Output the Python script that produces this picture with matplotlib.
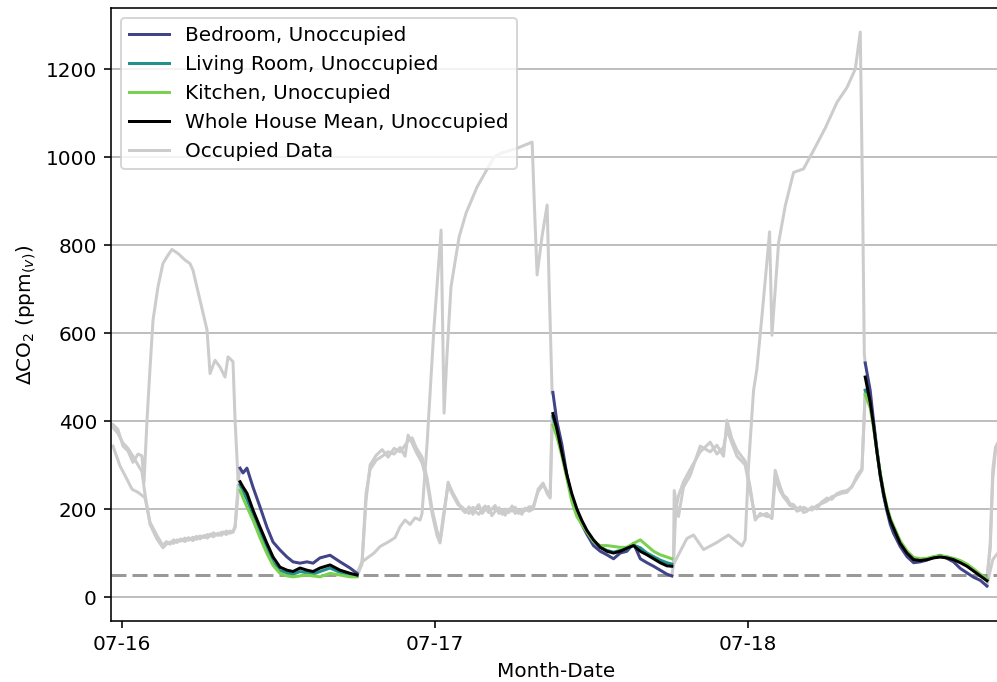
import numpy as np
import pandas as pd
import matplotlib
matplotlib.use('Agg')
import matplotlib.pyplot as plt
import matplotlib.dates as mdates

# 基準日 (07-16 00:00) からの経過時間 [h] と ΔCO2 [ppm]
START = pd.Timestamp('2021-07-16 00:00')

# ---- 在室時のデータ (グレー) ----
bed_occ_1_h = [-0.69, -0.31, 0.08, 0.46, 0.84, 1.23, 1.53, 1.69, 1.92, 2.15, 2.38, 2.76, 3.14, 3.53,
               3.83, 4.29, 4.83, 5.21, 5.44, 5.98, 6.52, 6.75, 7.13, 7.51, 7.90, 8.13, 8.51, 8.67, 8.90, 9.05]
bed_occ_1 = [392, 381, 343, 332, 306, 325, 321, 260, 402, 520, 629, 705, 758, 777,
             790, 781, 766, 758, 743, 675, 607, 508, 538, 523, 500, 546, 535, 402, 265, 290]
bed_occ_2_h = [18.02, 18.40, 18.86, 19.32, 19.79, 20.40, 20.93, 21.32, 21.70, 22.08, 22.47, 22.85, 23.00,
               23.39, 23.69, 23.92, 24.23, 24.46, 24.69, 24.92, 25.22, 25.84, 26.38, 27.22, 27.60, 28.52,
               29.06, 30.29, 31.44, 31.60, 31.82, 32.20, 32.59, 32.75, 32.97]
bed_occ_2 = [54, 80, 90, 100, 115, 125, 135, 160, 175, 165, 180, 175, 190,
             350, 500, 614, 740, 834, 418, 554, 705, 818, 873, 932, 952, 1000,
             1009, 1020, 1034, 900, 732, 820, 891, 700, 464]
bed_occ_3_h = [42.15, 42.27, 43.30, 43.81, 44.58, 45.60, 46.49, 47.52, 47.77, 48.03, 48.41, 48.67, 49.05,
               49.43, 49.64, 49.82, 50.33, 50.84, 51.48, 52.24, 53.01, 53.91, 54.80, 55.57, 56.21, 56.59,
               56.77, 56.90, 56.97]
bed_occ_3 = [48, 74, 133, 141, 108, 124, 141, 116, 130, 300, 469, 519, 637,
             760, 830, 595, 805, 889, 965, 973, 1015, 1066, 1124, 1158, 1200, 1284,
             900, 553, 532]
bed_occ_4_h = [66.30, 66.55, 66.75, 67.00, 67.30]
bed_occ_4 = [25, 60, 85, 95, 105]

liv_occ_1_h = [-0.69, -0.15, 0.38, 0.77, 1.23, 1.76, 2.15, 2.68, 3.14, 3.40, 3.68, 3.95, 4.22, 4.50,
               4.83, 5.10, 5.44, 5.70, 5.98, 6.30, 6.55, 6.75, 7.00, 7.36, 7.60, 7.74, 8.00, 8.28,
               8.51, 8.67, 8.90, 9.05]
liv_occ_1 = [343, 298, 268, 245, 238, 226, 170, 140, 117, 126, 120, 130, 124, 132,
             126, 135, 128, 138, 132, 140, 134, 143, 137, 145, 140, 148, 142, 150,
             147, 158, 255, 262]
liv_occ_2_h = [18.02, 18.40, 18.71, 19.02, 19.48, 19.94, 20.40, 20.86, 21.32, 21.70, 21.93, 22.24, 22.54,
               23.00, 23.39, 23.77, 24.15, 24.38, 24.61, 25.00, 25.30, 25.76, 26.05, 26.30, 26.60, 26.90,
               27.07, 27.35, 27.60, 27.84, 28.10, 28.35, 28.60, 28.90, 29.15, 29.37, 29.65, 29.90, 30.14,
               30.40, 30.65, 30.90, 31.20, 31.52, 31.90, 32.28, 32.59, 32.82, 32.97]
liv_occ_2 = [50, 80, 236, 290, 311, 320, 330, 325, 340, 320, 368, 350, 330,
             305, 260, 190, 140, 123, 170, 261, 240, 215, 200, 192, 205, 188,
             200, 210, 190, 198, 206, 185, 195, 203, 188, 200, 192, 207, 190,
             198, 188, 202, 195, 200, 245, 259, 235, 225, 410]
liv_occ_3_h = [42.15, 42.27, 42.33, 42.66, 43.04, 43.55, 44.32, 45.09, 45.60, 46.11, 46.37, 46.75, 47.14,
               47.77, 48.15, 48.54, 48.92, 49.43, 49.82, 50.07, 50.46, 50.70, 50.97, 51.20, 51.48, 51.75,
               51.99, 52.25, 52.50, 52.90, 53.27, 53.60, 54.04, 54.40, 54.80, 55.20, 55.57, 55.95, 56.34,
               56.72, 56.97]
liv_occ_3 = [70, 74, 242, 183, 250, 276, 343, 330, 345, 320, 402, 360, 334,
             309, 250, 175, 190, 183, 183, 288, 250, 232, 225, 212, 210, 200,
             205, 192, 195, 205, 200, 215, 225, 222, 235, 240, 242, 250, 276,
             292, 470]
liv_occ_4_h = [66.30, 66.55, 66.75, 66.95, 67.30]
liv_occ_4 = [40, 120, 290, 340, 360]

kit_occ_1_h = [-0.69, -0.31, 0.08, 0.46, 0.84, 1.23, 1.53, 1.76, 2.15, 2.68, 3.14, 3.40, 3.68, 3.95,
               4.22, 4.50, 4.83, 5.10, 5.44, 5.70, 5.98, 6.30, 6.55, 6.75, 7.00, 7.36, 7.60, 7.74,
               8.00, 8.28, 8.51, 8.67, 8.90, 9.05]
kit_occ_1 = [385, 372, 350, 338, 320, 300, 285, 235, 165, 132, 112, 120, 125, 122,
             130, 127, 134, 129, 136, 131, 139, 135, 142, 138, 146, 140, 147, 143,
             150, 145, 150, 160, 235, 243]
kit_occ_2_h = liv_occ_2_h
kit_occ_2 = [48, 75, 220, 300, 322, 335, 318, 338, 330, 345, 355, 362, 340,
             318, 270, 200, 150, 130, 180, 255, 235, 210, 205, 198, 190, 204,
             195, 188, 200, 207, 192, 200, 208, 190, 198, 186, 200, 195, 204,
             190, 200, 196, 205, 205, 240, 255, 240, 230, 391]
kit_occ_3_h = [42.15, 42.27, 42.45, 42.66, 43.04, 43.55, 44.32, 45.09, 45.60, 46.11, 46.37, 46.75, 47.14,
               47.77, 48.15, 48.54, 48.92, 49.43, 49.82, 50.07, 50.46, 50.70, 50.97, 51.20, 51.48, 51.75,
               51.99, 52.25, 52.50, 52.90, 53.27, 53.60, 54.04, 54.40, 54.80, 55.20, 55.57, 55.95, 56.34,
               56.72, 56.97]
kit_occ_3 = [70, 72, 200, 230, 262, 290, 330, 352, 325, 340, 380, 350, 320,
             300, 240, 180, 185, 190, 178, 270, 240, 228, 218, 208, 205, 195,
             198, 204, 200, 198, 208, 212, 218, 228, 232, 236, 238, 252, 270,
             288, 460]
kit_occ_4_h = [66.30, 66.55, 66.75, 66.95, 67.30]
kit_occ_4 = [42, 110, 270, 330, 355]

# ---- 不在時の減衰データ ----
unocc_1_h = [9.05, 9.28, 9.58, 10.04, 10.58, 11.11, 11.58, 12.11, 12.65, 13.11, 13.65, 14.18,
             14.65, 15.18, 15.95, 16.72, 17.48, 18.02]
bed_un_1 = [293, 282, 293, 250, 205, 159, 125, 107, 91, 80, 77, 80, 77, 89, 95, 80, 66, 54]
liv_un_1 = [255, 240, 222, 185, 145, 108, 78, 60, 55, 52, 58, 55, 52, 58, 66, 56, 50, 48]
kit_un_1 = [243, 225, 205, 175, 135, 99, 72, 54, 48, 46, 48, 50, 48, 46, 54, 50, 46, 46]
mean_un_1 = [262, 250, 236, 198, 159, 122, 91, 68, 61, 58, 66, 61, 58, 66, 73, 61, 54, 50]

unocc_2_h = [33.03, 33.33, 33.71, 34.10, 34.48, 34.87, 35.25, 35.63, 36.14, 36.66, 37.17, 37.68,
             38.19, 38.70, 39.21, 39.73, 40.24, 40.75, 41.26, 41.77, 42.15]
bed_un_2 = [465, 400, 348, 278, 226, 191, 165, 143, 117, 104, 96, 87, 100, 104, 122, 87, 78, 70, 61, 52, 48]
liv_un_2 = [410, 375, 328, 275, 228, 192, 170, 150, 127, 113, 106, 102, 106, 109, 118, 112, 100, 92, 84, 78, 75]
kit_un_2 = [391, 365, 322, 270, 217, 183, 165, 148, 126, 117, 117, 115, 113, 113, 122, 130, 117, 104, 96, 91, 87]
mean_un_2 = [417, 383, 330, 278, 235, 200, 174, 152, 130, 113, 104, 100, 104, 111, 117, 104, 96, 87, 78, 71, 70]

unocc_3_h = [56.97, 57.35, 57.61, 57.87, 58.12, 58.38, 58.64, 58.89, 59.14, 59.65, 60.17, 60.68,
             61.19, 61.70, 62.21, 62.72, 63.23, 63.74, 64.26, 64.77, 65.28, 65.79, 66.30]
bed_un_3 = [532, 470, 400, 335, 275, 230, 195, 165, 145, 115, 92, 78, 80, 84, 90, 95, 88, 80, 65, 55, 45, 38, 25]
liv_un_3 = [470, 440, 390, 330, 280, 236, 200, 174, 157, 124, 102, 88, 85, 86, 90, 92, 90, 86, 80, 72, 61, 50, 40]
kit_un_3 = [460, 430, 385, 330, 282, 240, 205, 180, 162, 128, 105, 90, 87, 88, 92, 94, 92, 88, 83, 75, 64, 52, 42]
mean_un_3 = [500, 443, 391, 330, 278, 235, 200, 174, 157, 122, 100, 85, 83, 85, 89, 91, 89, 85, 78, 70, 59, 48, 37]

BASELINE = 50


def join(hours, values):
    # 区間ごとのデータをNaNで区切って1本の系列にする
    t, v = [], []
    for h, y in zip(hours, values):
        t += list(h) + [h[-1] + 0.01]
        v += list(y) + [np.nan]
    return START + pd.to_timedelta(t, unit='h'), np.array(v, dtype=float)


cmap = plt.get_cmap('viridis')
c_bed, c_liv, c_kit = cmap(0.2), cmap(0.5), cmap(0.8)
c_occ = '0.8'

fig = plt.figure(figsize=(997 / 144, 682 / 144), dpi=144)
ax = fig.add_axes([0.1113, 0.0894, 0.893, 0.8988])

# 在室時
for h, y in [((bed_occ_1_h, bed_occ_2_h, bed_occ_3_h, bed_occ_4_h), (bed_occ_1, bed_occ_2, bed_occ_3, bed_occ_4)),
             ((liv_occ_1_h, liv_occ_2_h, liv_occ_3_h, liv_occ_4_h), (liv_occ_1, liv_occ_2, liv_occ_3, liv_occ_4)),
             ((kit_occ_1_h, kit_occ_2_h, kit_occ_3_h, kit_occ_4_h), (kit_occ_1, kit_occ_2, kit_occ_3, kit_occ_4))]:
    t, v = join(h, y)
    ax.plot(t, v, color=c_occ, lw=1.5, zorder=1)

ax.axhline(BASELINE, color='grey', lw=1.5, ls=(0, (5, 2)), alpha=0.8, zorder=2)

# 不在時
un_h = (unocc_1_h, unocc_2_h, unocc_3_h)
t, v = join(un_h, (bed_un_1, bed_un_2, bed_un_3))
ax.plot(t, v, color=c_bed, lw=1.5, zorder=3, label='Bedroom, Unoccupied')
t, v = join(un_h, (liv_un_1, liv_un_2, liv_un_3))
ax.plot(t, v, color=c_liv, lw=1.5, zorder=3, label='Living Room, Unoccupied')
t, v = join(un_h, (kit_un_1, kit_un_2, kit_un_3))
ax.plot(t, v, color=c_kit, lw=1.5, zorder=3, label='Kitchen, Unoccupied')
t, v = join(un_h, (mean_un_1, mean_un_2, mean_un_3))
ax.plot(t, v, color='black', lw=1.5, zorder=4, label='Whole House Mean, Unoccupied')
ax.plot([], [], color=c_occ, lw=1.5, label='Occupied Data')

ax.set_xlim(START + pd.Timedelta(hours=-0.843), START + pd.Timedelta(hours=67.4))
ax.set_ylim(-54.5, 1338.6)
ax.xaxis.set_major_locator(mdates.DayLocator())
ax.xaxis.set_major_formatter(mdates.DateFormatter('%m-%d'))
ax.grid(axis='y')
ax.set_axisbelow(True)
ax.set_xlabel('Month-Date')
ax.set_ylabel(r'$\Delta$CO$_2$ (ppm$_{(v)}$)')
ax.legend(loc='upper left')

fig.savefig('out.png', dpi=144)
